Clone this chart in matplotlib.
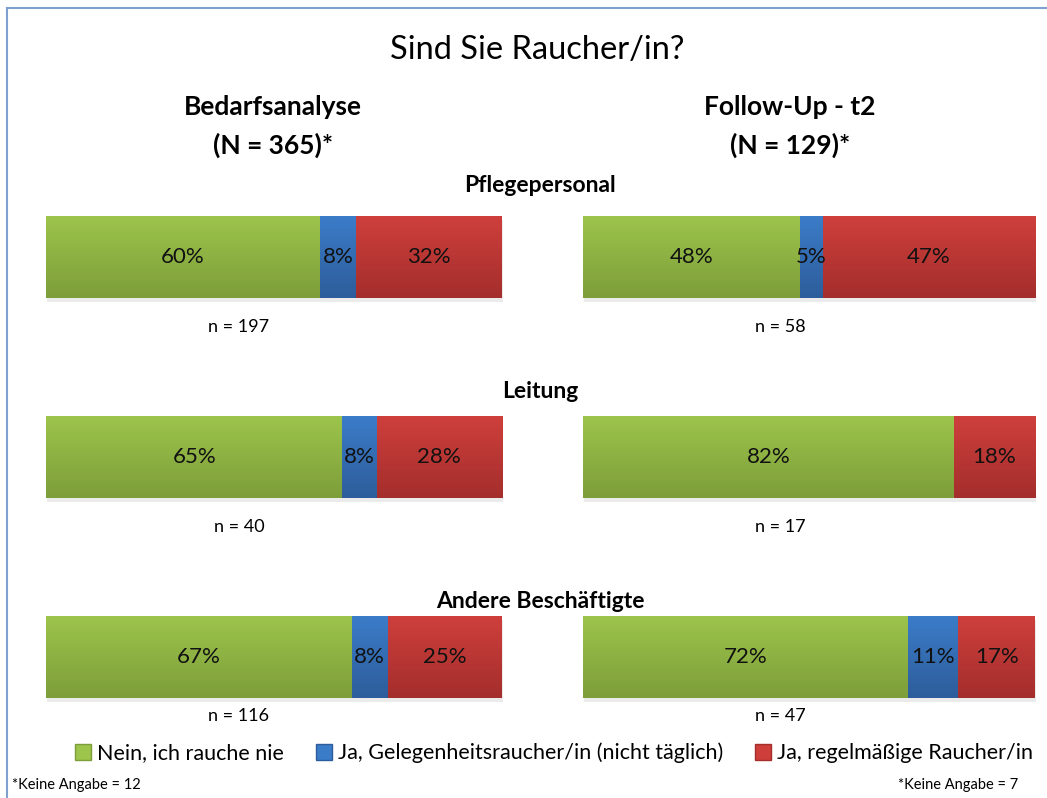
import numpy as np
import matplotlib
matplotlib.use("Agg")
import matplotlib.pyplot as plt
from matplotlib.patches import Patch
from matplotlib.lines import Line2D
from matplotlib.colors import LinearSegmentedColormap

plt.rcParams['font.family'] = ['Lato', 'DejaVu Sans']

# Daten
groups = ["Pflegepersonal", "Leitung", "Andere Beschäftigte"]
categories = ["Nein, ich rauche nie",
              "Ja, Gelegenheitsraucher/in (nicht täglich)",
              "Ja, regelmäßige Raucher/in"]
bedarf_nie = [60, 65, 67]
bedarf_gelegentlich = [8, 7.5, 8]
bedarf_regelmaessig = [32, 27.5, 25]
bedarf_n = [197, 40, 116]
followup_nie = [48, 82, 72]
followup_gelegentlich = [5, 0, 11]
followup_regelmaessig = [47, 18, 17]
followup_n = [58, 17, 47]

# Farben (oben hell, unten dunkel)
tops = ["#9DC44B", "#3B7CC8", "#CE3F3C"]
bottoms = ["#7D9E3A", "#2D5D9B", "#A42E2C"]

W, H = 1047, 798
fig = plt.figure(figsize=(W / 100, H / 100), dpi=100)


def fx(px):
    return px / W


def fy(py):
    return 1 - py / H


def draw_bar(ax, values):
    left = 0
    for i, v in enumerate(values):
        if v <= 0:
            continue
        # Schatten
        ax.barh(-0.05, v, left=left + 0.2, height=1, color="#000000",
                alpha=0.08, zorder=0, clip_on=False)
        bars = ax.barh(0, v, left=left, height=1, color=tops[i], zorder=1)
        patch = bars[0]
        cmap = LinearSegmentedColormap.from_list("g", [bottoms[i], tops[i]])
        grad = np.linspace(0, 1, 64).reshape(-1, 1)
        im = ax.imshow(grad, cmap=cmap, aspect="auto", origin="lower",
                       extent=(left, left + v, -0.5, 0.5), zorder=2)
        im.set_clip_path(patch)
        ax.text(left + v / 2, 0, f"{v:.0f}%", ha="center", va="center",
                fontsize=16, color="#111111", zorder=3)
        left += v
    ax.set_xlim(0, 100)
    ax.set_ylim(-0.5, 0.5)
    ax.axis("off")


row_tops = [216, 416, 616]
bar_h = 82
panels = [
    (46, 456, bedarf_nie, bedarf_gelegentlich, bedarf_regelmaessig, bedarf_n, 239),
    (583, 452, followup_nie, followup_gelegentlich, followup_regelmaessig, followup_n, 780),
]
n_y = [327, 527, 716]

for x0, w, nie, gel, reg, ns, nx in panels:
    for r in range(3):
        ax = fig.add_axes([fx(x0), fy(row_tops[r] + bar_h), fx(w), bar_h / H])
        draw_bar(ax, [nie[r], gel[r], reg[r]])
        fig.text(fx(nx), fy(n_y[r]), f"n = {ns[r]}", ha="center", va="center",
                 fontsize=13)

# Überschriften
fig.text(fx(537), fy(50), "Sind Sie Raucher/in?", ha="center", va="center",
         fontsize=23.5)
fig.text(fx(273), fy(107), "Bedarfsanalyse", ha="center", va="center",
         fontsize=19, fontweight="bold")
fig.text(fx(273), fy(145), "(N = 365)*", ha="center", va="center",
         fontsize=19, fontweight="bold")
fig.text(fx(790), fy(107), "Follow-Up - t2", ha="center", va="center",
         fontsize=19, fontweight="bold")
fig.text(fx(790), fy(145), "(N = 129)*", ha="center", va="center",
         fontsize=19, fontweight="bold")
for g, gy in zip(groups, [186, 392, 602]):
    fig.text(fx(540), fy(gy), g, ha="center", va="center", fontsize=16.5,
             fontweight="bold")

# Legende
handles = [Patch(facecolor=tops[i], edgecolor=bottoms[i]) for i in range(3)]
fig.legend(handles, categories, loc="center", bbox_to_anchor=(fx(554), fy(753)),
           ncol=3, frameon=False, fontsize=15.5, handlelength=0.75,
           handleheight=0.75, handletextpad=0.3, columnspacing=1.45)

fig.text(fx(12), fy(785), "*Keine Angabe = 12", ha="left", va="center",
         fontsize=10.5)
fig.text(fx(898), fy(785), "*Keine Angabe = 7", ha="left", va="center",
         fontsize=10.5)

# Rahmen
fig.add_artist(Line2D([fx(7), fx(7)], [fy(8), 0], color="#7FA1CF", lw=1.5))
fig.add_artist(Line2D([fx(7), 1], [fy(8), fy(8)], color="#7FA1CF", lw=1.5))

fig.savefig("out.png", dpi=100)
